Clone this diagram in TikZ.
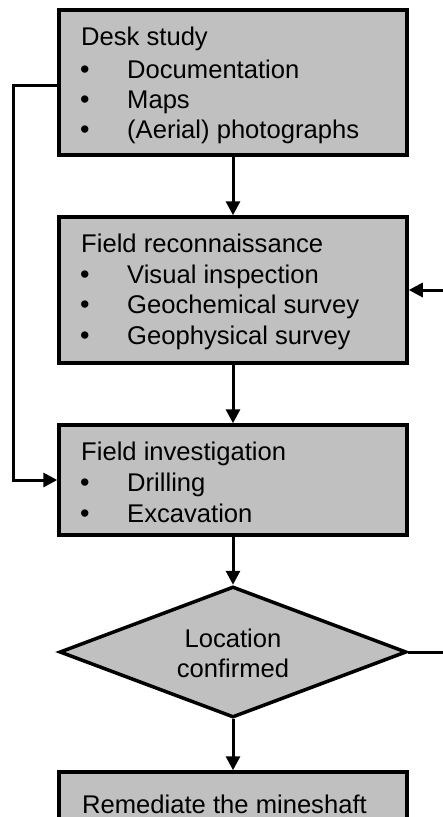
\documentclass[tikz,border=0pt]{standalone}
\usepackage{fontspec}
\setmainfont{Liberation Sans}
\usetikzlibrary{arrows.meta,shapes.geometric}
\tikzset{
  boxst/.style={draw=black, line width=3.5pt, fill=boxgray, rectangle, inner sep=0pt, minimum width=348pt},
  diast/.style={draw=black, line width=3.5pt, fill=boxgray, diamond, inner sep=0pt, minimum width=347pt, minimum height=131pt},
  txt/.style={anchor=base west, inner sep=0pt, font=\fontsize{25.6}{31}\selectfont},
  ctxt/.style={anchor=base, inner sep=0pt, font=\fontsize{25.6}{31}\selectfont},
  bul/.style={anchor=base west, inner sep=0pt, font=\fontsize{27}{31}\selectfont},
  conn/.style={draw=black, line width=3pt, -{Triangle[length=14pt,width=14pt]}},
  plain/.style={draw=black, line width=3pt}
}
\definecolor{boxgray}{RGB}{192,192,192}
\begin{document}
\begin{tikzpicture}[x=1pt,y=-1pt]
\useasboundingbox (0,0) rectangle (443,817);
\fill[white] (0,0) rectangle (443,817);
% boxes
\node[boxst, minimum height=145pt] (b1) at (233,82.5) {};
\node[boxst, minimum height=146pt] (b2) at (233,290) {};
\node[boxst, minimum height=110pt] (b3) at (233,480) {};
\node[diast] (d) at (233,652) {};
\node[boxst, minimum height=60pt] (b4) at (233,802) {};
% box 1 text
\node[txt] (t1) at (81,45) {Desk study};
\node[bul] (t1a) at (80,78) {\textbullet};
\node[txt] (t1b) at (127,78) {Documentation};
\node[bul] (t1c) at (80,108) {\textbullet};
\node[txt] (t1d) at (127,108) {Maps};
\node[bul] (t1e) at (80,138) {\textbullet};
\node[txt] (t1f) at (127,138) {(Aerial) photographs};
% box 2 text
\node[txt] (t2) at (81,252) {Field reconnaissance};
\node[bul] (t2a) at (80,283) {\textbullet};
\node[txt] (t2b) at (127,283) {Visual inspection};
\node[bul] (t2c) at (80,313) {\textbullet};
\node[txt] (t2d) at (127,313) {Geochemical survey};
\node[bul] (t2e) at (80,344) {\textbullet};
\node[txt] (t2f) at (127,344) {Geophysical survey};
% box 3 text
\node[txt] (t3) at (81,460) {Field investigation};
\node[bul] (t3a) at (80,491) {\textbullet};
\node[txt] (t3b) at (127,491) {Drilling};
\node[bul] (t3c) at (80,522) {\textbullet};
\node[txt] (t3d) at (127,522) {Excavation};
% diamond text
\node[ctxt] (td1) at (233,647) {Location};
\node[ctxt] (td2) at (233,677) {confirmed};
% box 4 text
\node[txt] (t4) at (82,813) {Remediate the mineshaft};
% connectors
\draw[conn] (b1.south) -- (b2.north);
\draw[conn] (b2.south) -- (b3.north);
\draw[conn] (b3.south) -- (d.north);
\draw[conn] (d.south) -- (b4.north);
\coordinate (lc) at (13,85);
\draw[conn] (b1.west |- lc) -- (lc) |- (b3.west);
\coordinate (rc) at (448,652);
\draw[conn] (d.east) -- (rc) |- (b2.east);
\end{tikzpicture}
\end{document}
